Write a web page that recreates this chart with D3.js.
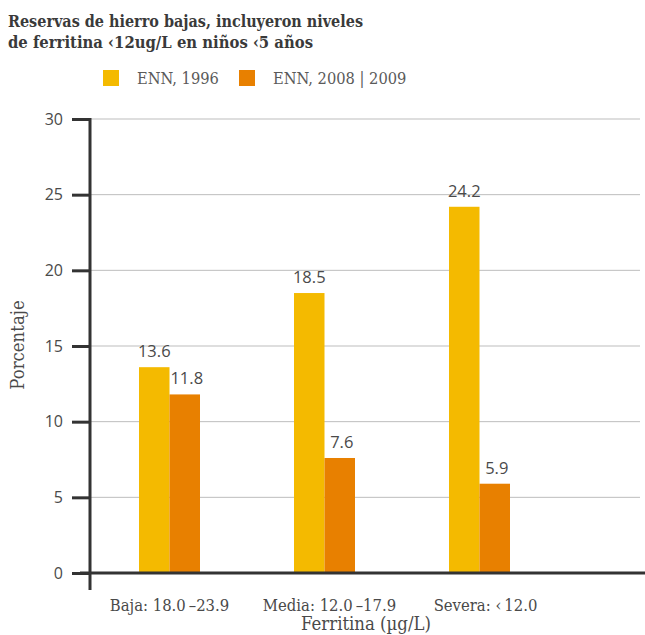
<!DOCTYPE html>
<html>
<head>
<meta charset="utf-8">
<script src="https://cdn.jsdelivr.net/npm/d3@7"></script>
<style>
  html, body { margin: 0; padding: 0; background: #fff; }
  svg { display: block; }
  .cond { font-stretch: condensed; }
</style>
</head>
<body>
<svg id="chart" width="645" height="635"></svg>
<script>
// Ferritin level categories (x axis)
const categories = ["Baja: 18.0\u202F\u201323.9", "Media: 12.0\u202F\u201317.9", "Severa: \u2039\u200912.0"];
// Survey series
const seriesNames = ["ENN, 1996", "ENN, 2008 | 2009"];
const values1996 = [13.6, 18.5, 24.2];
const values2008 = [11.8, 7.6, 5.9];
// Y axis ticks
const yTicks = [0, 5, 10, 15, 20, 25, 30];

const colors = ["#F4BA00", "#E88000"];
const textColor = "#4a4a4a";
const serif = "'DejaVu Serif', serif";
const sans = "'Open Sans', 'Noto Sans', sans-serif";

const svg = d3.select("#chart");

const data = categories.map((c, i) => ({ cat: c, vals: [values1996[i], values2008[i]] }));

const y = d3.scaleLinear().domain([0, 30]).range([573, 119]);
const x = d3.scaleBand().domain(categories).range([92, 557]).padding(0);
const groupWidth = 61;
const xs = d3.scaleBand().domain(seriesNames).range([0, groupWidth]);

// Title, two lines set to a fixed width
const titleLines = [
  { text: "Reservas de hierro bajas, incluyeron niveles", y: 27, w: 355 },
  { text: "de ferritina \u203912ug/L en niños \u20395 años", y: 48, w: 305 }
];
svg.append("g").selectAll("text").data(titleLines).join("text")
  .attr("class", "cond")
  .attr("x", 8).attr("y", d => d.y)
  .attr("textLength", d => d.w).attr("lengthAdjust", "spacingAndGlyphs")
  .attr("font-family", serif).attr("font-weight", "bold")
  .attr("font-size", 17.5).attr("fill", "#3a3a3a")
  .text(d => d.text);

// Legend
const legendX = [103, 239];
seriesNames.forEach((s, i) => {
  svg.append("rect").attr("x", legendX[i]).attr("y", 70).attr("width", 16).attr("height", 16).attr("fill", colors[i]);
  svg.append("text").attr("class", "cond").attr("x", legendX[i] + 34).attr("y", 84)
    .attr("font-family", serif).attr("font-size", 16.3).attr("fill", "#5a5a5a").text(s);
});

// Gridlines
svg.append("g").selectAll("line").data(yTicks.filter(t => t > 0)).join("line")
  .attr("x1", 90).attr("x2", 640)
  .attr("y1", d => y(d)).attr("y2", d => y(d))
  .attr("stroke", "#bdbdbd").attr("stroke-width", 1);

// Y axis
const yAxis = d3.axisLeft(y).tickValues(yTicks).tickSize(18).tickPadding(9);
const gy = svg.append("g").attr("transform", "translate(90,0)").call(yAxis);
gy.select(".domain").remove();
gy.selectAll(".tick line").attr("stroke", "#333").attr("stroke-width", 3);
gy.selectAll(".tick text").attr("font-family", sans).attr("font-size", 16).attr("fill", textColor);

// Bars
const groups = svg.append("g").selectAll("g").data(data).join("g")
  .attr("transform", d => `translate(${x(d.cat) + x.bandwidth() / 2 - groupWidth / 2},0)`);

groups.selectAll("rect").data(d => d.vals.map((v, i) => ({ s: seriesNames[i], v, i }))).join("rect")
  .attr("x", d => xs(d.s))
  .attr("width", xs.bandwidth())
  .attr("y", d => y(d.v))
  .attr("height", d => y(0) - y(d.v))
  .attr("fill", d => colors[d.i]);

groups.selectAll("text").data(d => d.vals.map((v, i) => ({ s: seriesNames[i], v, i }))).join("text")
  .attr("x", d => xs(d.s) + xs.bandwidth() / 2 + (d.i === 1 ? 2 : 0))
  .attr("y", d => y(d.v) - 10)
  .attr("text-anchor", "middle")
  .attr("font-family", sans).attr("font-size", 16.5).attr("fill", textColor)
  .text(d => d.v.toFixed(1));

// Axis lines
svg.append("line").attr("x1", 80).attr("x2", 645).attr("y1", y(0)).attr("y2", y(0))
  .attr("stroke", "#333").attr("stroke-width", 3);
svg.append("line").attr("x1", 90).attr("x2", 90).attr("y1", 118).attr("y2", 590)
  .attr("stroke", "#333").attr("stroke-width", 3);

// Category labels
svg.append("g").selectAll("text").data(categories).join("text")
  .attr("class", "cond")
  .attr("x", (d, i) => x(d) + x.bandwidth() / 2 + [0, 5, 6][i])
  .attr("y", 611)
  .attr("text-anchor", "middle")
  .attr("font-family", serif).attr("font-size", 16.5).attr("fill", textColor)
  .text(d => d);

// Axis titles
svg.append("text").attr("class", "cond").attr("x", 366).attr("y", 630).attr("text-anchor", "middle")
  .attr("font-family", serif).attr("font-size", 18.4).attr("fill", textColor)
  .text("Ferritina (\u00b5g/L)");

svg.append("text").attr("class", "cond").attr("transform", "translate(24,345) rotate(-90)").attr("text-anchor", "middle")
  .attr("font-family", serif).attr("font-size", 18.4).attr("fill", textColor)
  .text("Porcentaje");
</script>
</body>
</html>
